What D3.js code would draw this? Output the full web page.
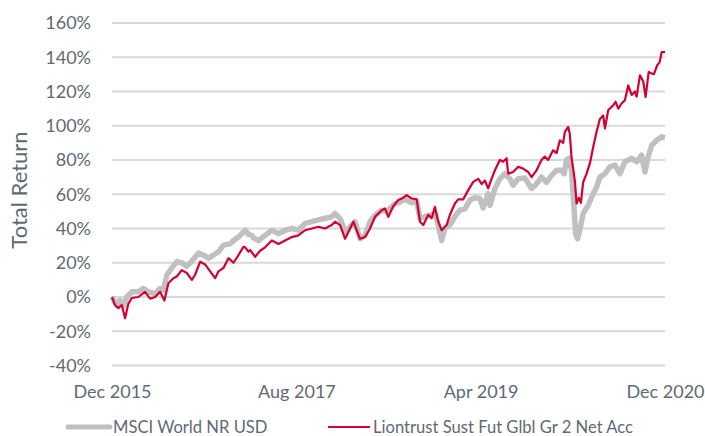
<!DOCTYPE html>
<html>
<head>
<meta charset="utf-8">
<script src="https://cdn.jsdelivr.net/npm/d3@7"></script>
<style>
  body { margin: 0; background: #fff; }
  svg text { font-family: Lato, "Noto Sans", sans-serif; fill: #5f6a72; }
</style>
</head>
<body>
<div id="chart"></div>
<script>
// dates are decimal years (2016.0 = end of Dec 2015)
var msciYears = [2016.000, 2016.042, 2016.072, 2016.102, 2016.133, 2016.178, 2016.238, 2016.283, 2016.328, 2016.389,
  2016.434, 2016.464, 2016.495, 2016.540, 2016.585, 2016.630, 2016.675, 2016.721, 2016.780, 2016.825,
  2016.871, 2016.916, 2016.961, 2017.006, 2017.067, 2017.097, 2017.142, 2017.187, 2017.203, 2017.232,
  2017.263, 2017.278, 2017.323, 2017.383, 2017.444, 2017.504, 2017.564, 2017.625, 2017.684, 2017.745,
  2017.806, 2017.865, 2017.926, 2017.986, 2018.016, 2018.062, 2018.107, 2018.152, 2018.197, 2018.242,
  2018.288, 2018.333, 2018.378, 2018.439, 2018.484, 2018.529, 2018.559, 2018.589, 2018.649, 2018.710,
  2018.755, 2018.785, 2018.830, 2018.891, 2018.920, 2018.950, 2018.981, 2019.011, 2019.056, 2019.101,
  2019.146, 2019.192, 2019.237, 2019.282, 2019.327, 2019.357, 2019.402, 2019.418, 2019.463, 2019.508,
  2019.553, 2019.599, 2019.628, 2019.674, 2019.734, 2019.795, 2019.840, 2019.885, 2019.930, 2019.976,
  2020.021, 2020.066, 2020.090, 2020.111, 2020.132, 2020.156, 2020.177, 2020.193, 2020.211, 2020.231,
  2020.261, 2020.307, 2020.352, 2020.382, 2020.412, 2020.458, 2020.503, 2020.548, 2020.593, 2020.638,
  2020.699, 2020.744, 2020.789, 2020.819, 2020.844, 2020.880, 2020.925, 2020.970, 2021.000];
var msciValues = [0, -4.7, -2, -5, 0, 3, 3, 5, 3, 2,
  5, 4, 12.8, 17, 20.6, 20, 18, 21, 25.6, 24.5,
  22.7, 24.5, 26.4, 30.3, 31, 33, 35, 38, 39, 36.5,
  36, 34.5, 33, 36, 39, 37, 39, 40, 39, 43,
  44, 45, 46, 46.8, 48.8, 45.8, 38, 41, 44, 34,
  36, 44, 47.8, 50.7, 50, 52.6, 54.6, 55, 57, 55,
  56, 45.9, 47, 48, 49, 42, 33, 40, 42, 47,
  50.7, 51.5, 56.6, 58, 57.5, 52, 60.4, 53.5, 63.4, 69,
  72, 69, 65.3, 69, 69.5, 63.4, 66, 70, 67, 71,
  74, 74, 72, 80, 81, 74, 54.6, 37, 34, 39,
  48.8, 53.6, 60.4, 64, 70, 72, 76, 77, 72, 79,
  81, 79, 82.8, 73, 81, 88.6, 91.5, 93.5, 93];

var fundYears = [2016.000, 2016.027, 2016.057, 2016.088, 2016.118, 2016.147, 2016.178, 2016.238, 2016.298, 2016.344,
  2016.389, 2016.434, 2016.473, 2016.509, 2016.554, 2016.585, 2016.630, 2016.675, 2016.721, 2016.750,
  2016.796, 2016.841, 2016.886, 2016.931, 2016.961, 2017.006, 2017.052, 2017.097, 2017.142, 2017.187,
  2017.203, 2017.232, 2017.248, 2017.293, 2017.338, 2017.383, 2017.444, 2017.504, 2017.564, 2017.625,
  2017.684, 2017.745, 2017.806, 2017.865, 2017.926, 2017.986, 2018.016, 2018.062, 2018.107, 2018.152,
  2018.182, 2018.242, 2018.288, 2018.333, 2018.378, 2018.439, 2018.468, 2018.498, 2018.543, 2018.589,
  2018.634, 2018.664, 2018.710, 2018.755, 2018.785, 2018.815, 2018.860, 2018.891, 2018.920, 2018.950,
  2018.981, 2019.026, 2019.056, 2019.101, 2019.131, 2019.176, 2019.222, 2019.267, 2019.312, 2019.343,
  2019.373, 2019.402, 2019.433, 2019.463, 2019.508, 2019.538, 2019.569, 2019.583, 2019.628, 2019.674,
  2019.719, 2019.764, 2019.795, 2019.840, 2019.885, 2019.915, 2019.945, 2019.990, 2020.021, 2020.051,
  2020.081, 2020.096, 2020.126, 2020.141, 2020.156, 2020.186, 2020.202, 2020.222, 2020.241, 2020.261,
  2020.292, 2020.322, 2020.352, 2020.382, 2020.412, 2020.442, 2020.458, 2020.487, 2020.533, 2020.554,
  2020.578, 2020.608, 2020.638, 2020.668, 2020.699, 2020.729, 2020.744, 2020.774, 2020.803, 2020.825,
  2020.853, 2020.899, 2020.929, 2020.951, 2020.970, 2021.000];
var fundValues = [0, -4.7, -6.5, -4.7, -12.4, -4, -0.6, 0, 3, -1,
  0, 3, -2, 8, 11, 12, 15.7, 14, 10, 13,
  20.6, 19, 15, 11, 15, 17, 22.7, 20, 24.5, 29.3,
  29, 26.5, 27.4, 23.5, 27, 29, 33, 31, 33, 35,
  36, 39, 40, 41, 40, 42, 44, 42, 34, 40,
  44, 34, 35, 40, 46.8, 50.7, 51.7, 46.8, 53, 56.6,
  58, 59.5, 57.5, 57, 44, 42, 48, 46, 52.6, 44,
  39, 42, 48, 54.6, 57, 57, 62.4, 67.2, 69, 66,
  68, 63.4, 69, 74, 80, 79, 81, 72, 73, 76,
  75, 73, 70, 74, 80, 82, 80, 85.7, 84, 91.5,
  90, 96.4, 99.3, 95, 81.8, 68, 54.6, 58, 55, 67,
  72, 78, 87.6, 96.4, 104, 106, 98.4, 109, 112, 114,
  110, 113, 114.9, 123.6, 118, 120, 117, 129.4, 126, 116.8,
  131.4, 130, 135.3, 137, 143, 143];

var xTickYears = [2016, 2017 + 8 / 12, 2019 + 4 / 12, 2021];
var xTickLabels = ["Dec 2015", "Aug 2017", "Apr 2019", "Dec 2020"];
var yTicks = [-40, -20, 0, 20, 40, 60, 80, 100, 120, 140, 160];

var seriesNames = ["MSCI World NR USD", "Liontrust Sust Fut Glbl Gr 2 Net Acc"];
var seriesColors = ["#c0c0c0", "#d50032"];

//setup
var width = 705, height = 436;
var margin = {top: 23, right: 40, bottom: 70.5, left: 112};

function yearToDate(t) {
  var y = Math.floor(t);
  var a = new Date(y, 0, 1), b = new Date(y + 1, 0, 1);
  return new Date(+a + (t - y) * (b - a));
}

var svg = d3.select("#chart").append("svg")
  .attr("width", width)
  .attr("height", height);

var x = d3.scaleTime()
  .domain([yearToDate(2016), yearToDate(2021)])
  .range([margin.left, width - margin.right]);

var y = d3.scaleLinear()
  .domain([-40, 160])
  .range([height - margin.bottom, margin.top]);

//gridlines
svg.append("g")
  .selectAll("line")
  .data(yTicks)
  .enter()
  .append("line")
  .attr("x1", margin.left)
  .attr("x2", width - margin.right)
  .attr("y1", function(d) { return y(d); })
  .attr("y2", function(d) { return y(d); })
  .attr("stroke", "#d9d9d9")
  .attr("stroke-width", 2);

//y axis labels
var yAxis = d3.axisLeft(y)
  .tickValues(yTicks)
  .tickFormat(function(d) { return d + "%"; })
  .tickSize(0)
  .tickPadding(21);

svg.append("g")
  .attr("transform", "translate(" + margin.left + ",0)")
  .call(yAxis)
  .call(function(g) { g.select(".domain").remove(); })
  .selectAll("text")
  .style("font-size", "18px")
  .attr("fill", "#5f6a72");

//x axis labels
var xAxis = d3.axisBottom(x)
  .tickValues(xTickYears.map(yearToDate))
  .tickFormat(function(d, i) { return xTickLabels[i]; })
  .tickSize(0)
  .tickPadding(20);

svg.append("g")
  .attr("transform", "translate(0," + (height - margin.bottom) + ")")
  .call(xAxis)
  .call(function(g) { g.select(".domain").remove(); })
  .selectAll("text")
  .style("font-size", "18px")
  .attr("fill", "#5f6a72");

//axis title
svg.append("text")
  .attr("transform", "translate(27," + 190 + ") rotate(-90)")
  .attr("text-anchor", "middle")
  .style("font-size", "22px")
  .text("Total Return");

//lines
var line = d3.line()
  .x(function(d) { return x(yearToDate(d[0])); })
  .y(function(d) { return y(d[1]); });

svg.append("path")
  .datum(d3.zip(msciYears, msciValues))
  .attr("d", line)
  .attr("fill", "none")
  .attr("stroke", seriesColors[0])
  .attr("stroke-width", 5.5)
  .attr("stroke-linejoin", "round");

svg.append("path")
  .datum(d3.zip(fundYears, fundValues))
  .attr("d", line)
  .attr("fill", "none")
  .attr("stroke", seriesColors[1])
  .attr("stroke-width", 2.2)
  .attr("stroke-linejoin", "round");

//legend
var legendX = [68, 328];
var legend = svg.append("g")
  .selectAll("g")
  .data(seriesNames)
  .enter()
  .append("g")
  .attr("transform", function(d, i) { return "translate(" + legendX[i] + ",427)"; });

legend.append("line")
  .attr("x1", 0)
  .attr("x2", 42)
  .attr("stroke", function(d, i) { return seriesColors[i]; })
  .attr("stroke-width", function(d, i) { return i === 0 ? 5 : 2.2; })
  .attr("stroke-linecap", function(d, i) { return i === 0 ? "round" : "butt"; });

legend.append("text")
  .attr("x", 45)
  .attr("dy", "0.35em")
  .style("font-size", "16.6px")
  .text(function(d) { return d; });
</script>
</body>
</html>
